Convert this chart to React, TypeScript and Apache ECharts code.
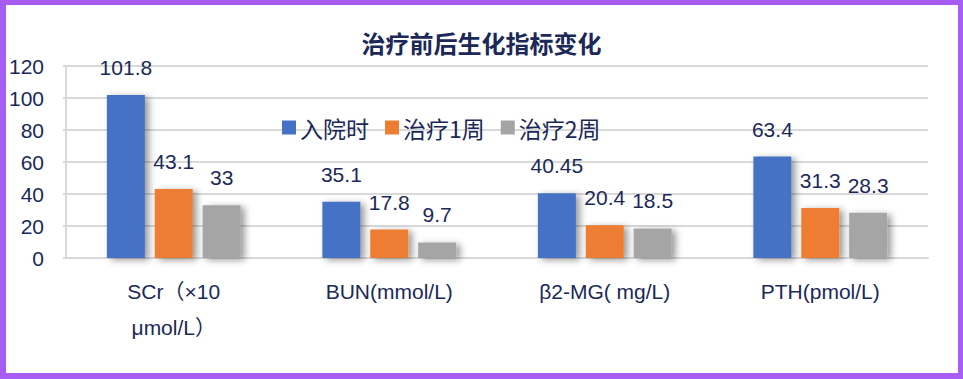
import React, { useEffect, useRef } from "react";
import * as echarts from "echarts";

const categories = ["SCr（×10\nμmol/L）", "BUN(mmol/L)", "β2-MG( mg/L)", "PTH(pmol/L)"];
const seriesNames = ["入院时", "治疗1周", "治疗2周"];
const admission = [101.8, 35.1, 40.45, 63.4];
const week1 = [43.1, 17.8, 20.4, 31.3];
const week2 = [33, 9.7, 18.5, 28.3];
const colors = ["#4472C4", "#ED7D31", "#A5A5A5"];
const yTicks = { min: 0, max: 120, interval: 20 };

const NAVY = "#1b2858";
const SANS = "'Liberation Sans', Arial, 'Noto Sans CJK SC', sans-serif";
const CJK = "'Noto Sans CJK SC', sans-serif";

export default function App() {
  const ref = useRef<HTMLDivElement>(null);
  useEffect(() => {
    if (!ref.current) return;
    const chart = echarts.init(ref.current, undefined, { renderer: "svg" });
    const data = [admission, week1, week2];
    chart.setOption({
      animation: false,
      backgroundColor: "#ffffff",
      title: {
        text: "治疗前后生化指标变化",
        left: "center",
        top: 25,
        textStyle: { fontFamily: CJK, fontSize: 24, fontWeight: "bold", color: NAVY },
      },
      legend: {
        data: seriesNames,
        left: 277,
        top: 111,
        icon: "rect",
        itemWidth: 14,
        itemHeight: 14,
        itemGap: 16,
        textStyle: { fontFamily: CJK, fontSize: 23, color: NAVY, padding: [0, 0, 0, -1] },
      },
      grid: { left: 66, right: 35, top: 66, bottom: 121, containLabel: false },
      xAxis: {
        type: "category",
        data: categories,
        axisLine: { lineStyle: { color: "#d9d9d9", width: 2 } },
        axisTick: { show: false },
        axisLabel: {
          interval: 0,
          margin: 15,
          fontFamily: SANS,
          fontSize: 21,
          lineHeight: 36,
          color: NAVY,
        },
      },
      yAxis: {
        type: "value",
        min: yTicks.min,
        max: yTicks.max,
        interval: yTicks.interval,
        axisLine: { show: true, lineStyle: { color: "#d9d9d9", width: 2 } },
        axisTick: { show: true, length: 3, lineStyle: { color: "#d9d9d9", width: 2 } },
        splitLine: { lineStyle: { color: "#d9d9d9", width: 2 } },
        axisLabel: { fontFamily: SANS, fontSize: 21, color: NAVY, margin: 22 },
      },
      series: seriesNames.map((name, i) => ({
        name,
        type: "bar",
        data: data[i],
        barWidth: 38,
        barGap: "26%",
        itemStyle: {
          color: colors[i],
          shadowBlur: 7,
          shadowOffsetX: 4,
          shadowOffsetY: 2,
          shadowColor: "rgba(0,0,0,0.4)",
        },
        label: {
          show: true,
          position: "top",
          distance: 17,
          fontFamily: SANS,
          fontSize: 21,
          color: NAVY,
        },
      })),
    });
    return () => chart.dispose();
  }, []);
  return (
    <div style={{ position: "fixed", left: 0, top: 0, width: 963, height: 379, background: "#fff" }}>
      <div ref={ref} style={{ position: "absolute", left: 0, top: 0, width: 963, height: 379 }} />
      <div
        style={{
          position: "absolute",
          left: 0,
          top: 0,
          width: 963,
          height: 379,
          boxSizing: "border-box",
          borderStyle: "solid",
          borderColor: "#a75cf3",
          borderWidth: "5px 5px 6px 6px",
          pointerEvents: "none",
        }}
      />
    </div>
  );
}
